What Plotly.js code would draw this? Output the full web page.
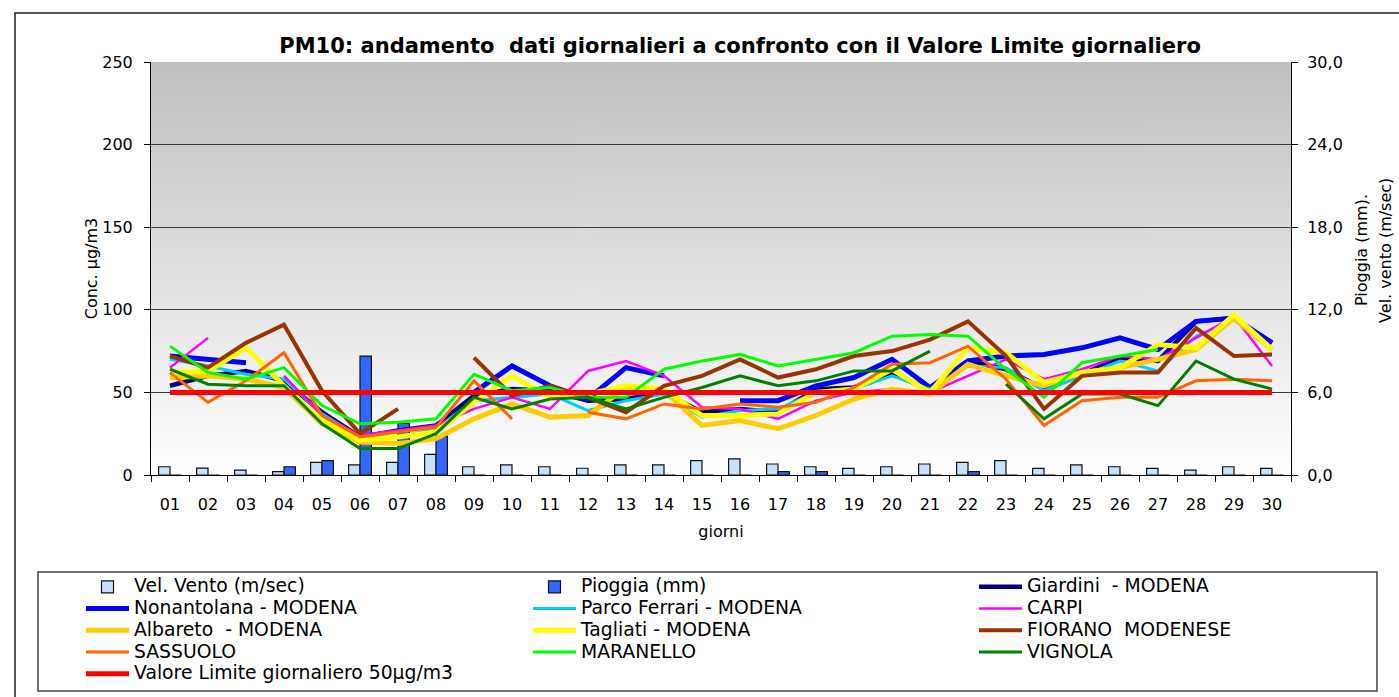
<!DOCTYPE html>
<html>
<head>
<meta charset="utf-8">
<script src="https://cdn.plot.ly/plotly-3.0.1.min.js"></script>
<style>
html, body { margin: 0; padding: 0; background: #fff; }
#pm10_chart { width: 1399px; height: 697px; }
</style>
</head>
<body>
<div id="pm10_chart"></div>
<script>
// ------------------- Data -------------------
var giorni = ['01','02','03','04','05','06','07','08','09','10','11','12','13','14','15',
              '16','17','18','19','20','21','22','23','24','25','26','27','28','29','30'];

// right axis (m/sec, mm)
var velVento = [0.6, 0.5, 0.36, 0.24, 0.92, 0.73, 0.92, 1.5, 0.6, 0.73, 0.6, 0.49, 0.73, 0.73, 1.05,
                1.17, 0.8, 0.6, 0.48, 0.6, 0.8, 0.92, 1.05, 0.48, 0.73, 0.6, 0.48, 0.36, 0.6, 0.48];
var pioggia = [0, 0, 0, 0.6, 1.04, 8.64, 3.75, 2.83, 0, 0, 0, 0, 0, 0, 0,
               0, 0.24, 0.24, 0, 0, 0, 0.24, 0, 0, 0, 0, 0, 0, 0, 0];

// left axis, PM10 ug/m3 (null = missing day)
var giardini = [54, 60, 63, 57, 38, 23, 27, 30, 48, 52, 51, 45, 46, 50, 38,
                40, 38, 52, 53, 61, 52, 69, 64, 52, 61, 71, 69, 93, 95, 80];
var nonantolana = [72, 70, 68, null, null, null, null, null, 50, 66, 54, 46, 65, 60, null,
                   45, 45, 54, 59, 70, 53, 69, 72, 73, 77, 83, 76, 93, 95, 80];
var parcoFerrari = [70, 66, 61, 58, 37, 23, 23, 28, 45, 47, 49, 39, 45, 49, 35,
                    39, 40, 50, 52, 60, 52, 66, 65, 51, 60, 69, 63, 84, 94, 76];
var carpi = [65, 83, null, 60, 36, 24, 27, 30, 40, 47, 40, 63, 69, 60, 41,
             40, 34, 45, 50, 52, 50, 60, 70, 58, 64, 72, 70, 83, 96, 66];
var albareto = [59, 60, 58, 53, 31, 20, 19, 22, 34, 43, 35, 36, 53, 51, 30,
                33, 28, 36, 46, 52, 49, 67, 60, 54, 62, 65, 70, 76, 95, 76];
var tagliati = [62, 63, 77, 54, 33, 21, 23, 26, 44, 60, 47, 49, 54, 52, 36,
                36, 37, 50, 52, 64, 50, 77, 74, 56, 62, 65, 79, 77, 97, 76];
var fiorano = [72, 65, 80, 91, 51, 25, 40, null, 71, 48, 54, 47, 38, 54, 60,
               70, 59, 64, 72, 75, 82, 93, 72, 40, 60, 62, 62, 89, 72, 73];
var sassuolo = [62, 44, 57, 74, 36, 23, 26, 29, 57, 34, null, 38, 34, 43, 40,
                43, 41, 44, 53, 67, 68, 78, 58, 30, 45, 47, 47, 57, 58, 57];
var maranello = [78, 62, 58, 65, 42, 31, 32, 34, 61, 51, 53, 47, 47, 64, 69,
                 73, 66, 70, 74, 84, 85, 84, 64, 47, 68, 72, 76, null, null, null];
var vignola = [64, 55, 54, 54, 31, 16, 16, 25, 47, 40, 46, 47, 40, 47, 53,
               60, 54, 57, 63, 63, 75, null, 55, 34, 49, 49, 42, 69, 58, 52];
var valoreLimite = [50, 50, 50, 50, 50, 50, 50, 50, 50, 50, 50, 50, 50, 50, 50,
                    50, 50, 50, 50, 50, 50, 50, 50, 50, 50, 50, 50, 50, 50, 50];

// ------------------- Helper functions -------------------
var FONT = 'DejaVu Sans, Arial, sans-serif';

// legend rows are spaced by the small legend font, text drawn bigger
function legendName(txt) {
    return '<span style="font-size:18.8px">' + txt + '</span>';
}

function lineTrace(name, vals, color, width, legendId) {
    return {
        x: giorni,
        y: vals,
        name: legendName(name),
        type: 'scatter',
        mode: 'lines',
        yaxis: 'y2',
        legend: legendId,
        line: { color: color, width: width }
    };
}

// grey -> white background of the plot area
function makeGradient() {
    var c = document.createElement('canvas');
    c.width = 4;
    c.height = 256;
    var ctx = c.getContext('2d');
    var g = ctx.createLinearGradient(0, 0, 0, 256);
    g.addColorStop(0, '#c0c0c0');
    g.addColorStop(1, '#ffffff');
    ctx.fillStyle = g;
    ctx.fillRect(0, 0, 4, 256);
    return c.toDataURL();
}

// ------------------- Traces -------------------
var vento_trace = {
    x: giorni,
    y: velVento,
    name: legendName('Vel. Vento (m/sec)'),
    type: 'bar',
    legend: 'legend',
    marker: { color: '#c8e1fa', line: { color: '#111', width: 1.2 } }
};
var pioggia_trace = {
    x: giorni,
    y: pioggia,
    name: legendName('Pioggia (mm)'),
    type: 'bar',
    legend: 'legend2',
    marker: { color: '#3366ff', line: { color: '#111', width: 1.2 } }
};

var data = [
    vento_trace,
    pioggia_trace,
    lineTrace('Giardini\u00a0\u00a0- MODENA', giardini, '#000080', 4.5, 'legend3'),
    lineTrace('Nonantolana - MODENA', nonantolana, '#0000ff', 5, 'legend'),
    lineTrace('Parco Ferrari - MODENA', parcoFerrari, '#00ccff', 3, 'legend2'),
    lineTrace('CARPI', carpi, '#ff00ff', 2.5, 'legend3'),
    lineTrace('Albareto\u00a0\u00a0- MODENA', albareto, '#ffcc00', 5, 'legend'),
    lineTrace('Tagliati - MODENA', tagliati, '#ffff00', 5, 'legend2'),
    lineTrace('FIORANO\u00a0\u00a0MODENESE', fiorano, '#993300', 4, 'legend3'),
    lineTrace('SASSUOLO', sassuolo, '#ff6600', 3, 'legend'),
    lineTrace('MARANELLO', maranello, '#00ff00', 3, 'legend2'),
    lineTrace('VIGNOLA', vignola, '#008000', 3, 'legend3'),
    lineTrace('Valore Limite giornaliero 50\u00b5g/m3', valoreLimite, '#ff0000', 5, 'legend')
];

// three legend columns, placed in the container so they do not squeeze the plot
var legendBase = {
    orientation: 'v',
    xanchor: 'left',
    yanchor: 'top',
    yref: 'container',
    y: 0.1808,
    itemwidth: 43,
    bgcolor: 'rgba(0,0,0,0)',
    borderwidth: 0,
    traceorder: 'normal',
    font: { family: FONT, size: 14.4, color: '#000' }
};

var layout = {
    width: 1399,
    height: 697,
    margin: { l: 151, r: 108, t: 62, b: 222 },
    paper_bgcolor: '#ffffff',
    plot_bgcolor: 'rgba(0,0,0,0)',
    separators: ',.',
    font: { family: FONT, size: 16, color: '#000' },
    title: {
        text: '<b>PM10: andamento\u00a0\u00a0dati giornalieri a confronto con il Valore Limite giornaliero</b>',
        font: { family: FONT, size: 21, color: '#000' },
        xref: 'container', x: 0.529, xanchor: 'center',
        yref: 'container', y: 0.935, yanchor: 'middle'
    },
    barmode: 'group',
    bargap: 0.4,
    bargroupgap: 0,
    showlegend: true,
    legend: Object.assign({}, legendBase, { x: -0.0614 }),
    legend2: Object.assign({}, legendBase, { x: 0.3307 }),
    legend3: Object.assign({}, legendBase, { x: 0.7219 }),
    xaxis: {
        type: 'category',
        tickson: 'boundaries',
        ticks: 'outside',
        ticklen: 6,
        tickcolor: '#000',
        ticklabelstandoff: 15,
        showline: true,
        linecolor: '#000',
        linewidth: 1,
        showgrid: false,
        tickfont: { family: FONT, size: 16 },
        title: { text: 'giorni', standoff: 12, font: { family: FONT, size: 16 } }
    },
    // right axis: rain / wind (bars)
    yaxis: {
        side: 'right',
        range: [0, 30],
        dtick: 6,
        tickformat: '.1f',
        ticks: 'outside',
        ticklen: 6,
        tickcolor: '#000',
        ticklabelstandoff: 6,
        showline: true,
        linecolor: '#000',
        linewidth: 1,
        showgrid: true,
        gridcolor: '#3a3a3a',
        gridwidth: 1,
        zeroline: false,
        tickfont: { family: FONT, size: 16 }
    },
    // left axis: PM10 lines
    yaxis2: {
        overlaying: 'y',
        side: 'left',
        range: [0, 250],
        dtick: 50,
        ticks: 'outside',
        ticklen: 6,
        tickcolor: '#000',
        ticklabelstandoff: 8,
        showline: true,
        linecolor: '#000',
        linewidth: 1,
        showgrid: false,
        zeroline: false,
        tickfont: { family: FONT, size: 16 },
        title: { text: 'Conc. \u00b5g/m3', standoff: 0, font: { family: FONT, size: 16 } }
    },
    images: [{
        source: makeGradient(),
        xref: 'paper', yref: 'paper',
        x: 0, y: 1, sizex: 1, sizey: 1,
        xanchor: 'left', yanchor: 'top',
        sizing: 'stretch',
        layer: 'below'
    }],
    annotations: [
        {
            text: 'Pioggia (mm).', textangle: -90, showarrow: false,
            xref: 'paper', yref: 'paper', x: 1.0623, y: 0.545,
            xanchor: 'center', yanchor: 'middle',
            font: { family: FONT, size: 16 }
        },
        {
            text: 'Vel. vento (m/sec)', textangle: -90, showarrow: false,
            xref: 'paper', yref: 'paper', x: 1.0833, y: 0.545,
            xanchor: 'center', yanchor: 'middle',
            font: { family: FONT, size: 16 }
        }
    ],
    shapes: [
        // outer frame of the chart (right and bottom sides run off the picture)
        {
            type: 'rect', xref: 'paper', yref: 'paper',
            x0: -0.1193, x1: 1.2, y0: -0.6, y1: 1.1186,
            line: { color: '#222', width: 1.5 }
        },
        // legend box
        {
            type: 'rect', xref: 'paper', yref: 'paper',
            x0: -0.0991, x1: 1.0754, y0: -0.523, y1: -0.2349,
            line: { color: '#444', width: 1.5 }
        }
    ]
};

Plotly.newPlot('pm10_chart', data, layout, { displayModeBar: false, staticPlot: true });
</script>
</body>
</html>
